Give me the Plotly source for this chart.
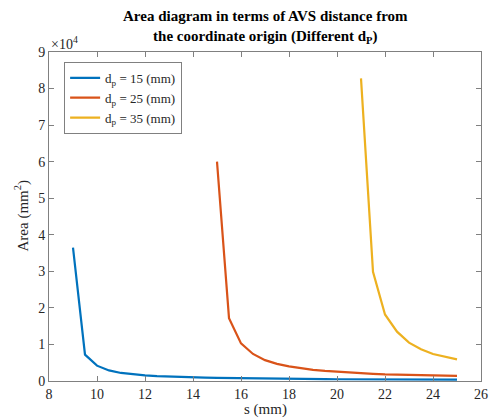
import plotly.graph_objects as go

# ---- data (Area in units of 1e4 mm^2) ----
s_15 = [9, 9.5, 10, 10.5, 11, 11.5, 12, 12.5, 13, 13.5, 14, 14.5, 15, 15.5, 16, 16.5,
        17, 17.5, 18, 18.5, 19, 19.5, 20, 20.5, 21, 21.5, 22, 22.5, 23, 23.5, 24, 24.5, 25]
a_15 = [3.65, 0.72, 0.42, 0.29, 0.22, 0.18, 0.155, 0.135, 0.12, 0.11, 0.10, 0.092, 0.085,
        0.079, 0.074, 0.069, 0.065, 0.061, 0.058, 0.055, 0.052, 0.050, 0.048, 0.046, 0.044,
        0.043, 0.041, 0.040, 0.039, 0.038, 0.037, 0.036, 0.035]
s_25 = [15, 15.5, 16, 16.5, 17, 17.5, 18, 18.5, 19, 19.5, 20, 20.5, 21, 21.5, 22, 22.5,
        23, 23.5, 24, 24.5, 25]
a_25 = [6.0, 1.72, 1.03, 0.74, 0.57, 0.47, 0.40, 0.345, 0.305, 0.275, 0.25, 0.23, 0.21,
        0.195, 0.18, 0.17, 0.16, 0.155, 0.15, 0.145, 0.14]
s_35 = [21, 21.5, 22, 22.5, 23, 23.5, 24, 24.5, 25]
a_35 = [8.28, 2.99, 1.82, 1.35, 1.05, 0.87, 0.74, 0.66, 0.59]

series_names = ["d<sub>p</sub> = 15 (mm)", "d<sub>p</sub> = 25 (mm)", "d<sub>p</sub> = 35 (mm)"]
series_colors = ["#0072BD", "#D95319", "#EDB120"]
x_ticks = [8, 10, 12, 14, 16, 18, 20, 22, 24, 26]
y_ticks = [0, 1, 2, 3, 4, 5, 6, 7, 8, 9]
scale = 1e4

FONT = "Liberation Serif, Times New Roman, serif"
TXT = "#262626"
AX = "#808080"

fig = go.Figure()
for s, a, name, col in zip([s_15, s_25, s_35], [a_15, a_25, a_35], series_names, series_colors):
    fig.add_trace(go.Scatter(x=s, y=[v * scale for v in a], mode="lines", name=name,
                             line=dict(color=col, width=2.2)))

axis_common = dict(showline=True, linecolor=AX, linewidth=1, mirror="ticks",
                   ticks="inside", ticklen=5, tickcolor=AX, showgrid=False, zeroline=False,
                   automargin=False,
                   tickfont=dict(family=FONT, size=14, color=TXT))

fig.update_xaxes(range=[8, 26], tickvals=x_ticks, ticktext=[str(t) for t in x_ticks],
                 **axis_common)
fig.update_yaxes(range=[0, 9 * scale], tickvals=[t * scale for t in y_ticks],
                 ticktext=[str(t) for t in y_ticks],
                 **axis_common)

# axis titles and exponent label
fig.add_annotation(text="s (mm)", xref="paper", yref="paper", x=0.5, y=0,
                   xanchor="center", yanchor="middle", yshift=-28, showarrow=False,
                   font=dict(family=FONT, size=15, color=TXT))
fig.add_annotation(text="Area (mm<sup>2</sup>)", xref="paper", yref="paper", x=0, y=0.5,
                   xanchor="center", yanchor="middle", xshift=-27, textangle=-90, showarrow=False,
                   font=dict(family=FONT, size=15, color=TXT))
fig.add_annotation(text="×10<sup>4</sup>", xref="paper", yref="paper", x=0, y=1,
                   xanchor="left", yanchor="bottom", showarrow=False, yshift=-2,
                   font=dict(family=FONT, size=14, color=TXT))
fig.add_annotation(text="<b>Area diagram in terms of AVS distance from<br>the coordinate origin (Different d<sub>P</sub>)</b>",
                   xref="paper", yref="paper", x=0.5, y=1, xanchor="center", yanchor="bottom",
                   yshift=4, showarrow=False,
                   font=dict(family=FONT, size=15, color="#000000"))

fig.update_layout(
    width=489, height=419,
    margin=dict(l=49, r=8, t=52, b=38),
    paper_bgcolor="white", plot_bgcolor="white",
    legend=dict(x=0.035, y=0.97, xanchor="left", yanchor="top",
                bordercolor=AX, borderwidth=1, bgcolor="white",
                font=dict(family=FONT, size=13, color=TXT), tracegroupgap=0),
    showlegend=True,
)

fig.write_html("out.html", config={"displayModeBar": False},
               post_script="document.body.style.margin='0';document.body.style.padding='0';")
